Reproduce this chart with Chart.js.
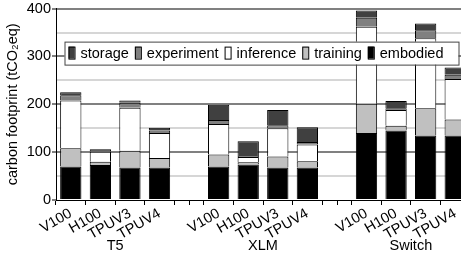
<!DOCTYPE html>
<html>
<head>
<meta charset="utf-8">
<script src="https://cdn.jsdelivr.net/npm/chart.js@4"></script>
<style>
  html, body { margin: 0; padding: 0; background: #fff; overflow: hidden; }
  #wrap { width: 470px; height: 258px; }
</style>
</head>
<body>
<div id="wrap"><canvas id="chart-footprint"></canvas></div>
<script>
// hardware per slot, empty slots separate the model groups
const categories = ["V100", "H100", "TPUV3", "TPUV4", "",
                    "V100", "H100", "TPUV3", "TPUV4", "",
                    "V100", "H100", "TPUV3", "TPUV4"];
const groups = ["T5", "XLM", "Switch"];
const groupCenters = [1.5, 6.5, 11.5];
const gapSlots = [4, 9];

// tCO2eq, stacked bottom -> top
const embodied   = [70, 73, 68, 68, null, 70, 74, 68, 68, null, 140, 145, 135, 135];
const training   = [38, 7, 35, 20, null, 25, 5, 23, 13, null, 61, 10, 57, 33];
const inference  = [100, 21, 90, 52, null, 64, 11, 59, 35, null, 161, 33, 146, 85];
const experiment = [11, 1, 10, 5, null, 8, 2, 6, 5, null, 19, 4, 17, 9];
const storage    = [6, 4, 5, 6, null, 32, 31, 32, 31, null, 15, 15, 14, 15];

const yTicks = [0, 100, 200, 300, 400];

const FONT = "'Liberation Sans', Arial, sans-serif";
Chart.defaults.font.family = FONT;
Chart.defaults.font.size = 14.5;
Chart.defaults.color = "#000";

// legend drawn inside the plot, in a boxed row
const boxedLegend = {
  id: "boxedLegend",
  afterDraw(chart) {
    const ctx = chart.ctx;
    const ca = chart.chartArea;
    const left = ca.left + 8.5, top = ca.top + 33, w = 394, h = 23;
    ctx.save();
    ctx.fillStyle = "#fff";
    ctx.fillRect(left, top, w, h);
    ctx.strokeStyle = "#444";
    ctx.lineWidth = 1;
    ctx.strokeRect(left + 0.5, top + 0.5, w, h);
    ctx.font = "14.5px " + FONT;
    ctx.textBaseline = "middle";
    let x = left + 4;
    const items = chart.data.datasets.slice().reverse();
    items.forEach(ds => {
      ctx.fillStyle = ds.backgroundColor;
      ctx.fillRect(x, top + 5, 6, 12);
      ctx.strokeStyle = "#000";
      ctx.strokeRect(x + 0.5, top + 5.5, 6, 12);
      x += 12;
      ctx.fillStyle = "#000";
      ctx.fillText(ds.label, x, top + 12);
      x += ctx.measureText(ds.label).width + 6;
    });
    ctx.restore();
  }
};

// model names under the hardware labels, plus ticks in the gaps
const groupLabels = {
  id: "groupLabels",
  afterDraw(chart) {
    const ctx = chart.ctx;
    const xs = chart.scales.x;
    const ca = chart.chartArea;
    ctx.save();
    ctx.font = "14.5px " + FONT;
    ctx.fillStyle = "#000";
    ctx.textAlign = "center";
    ctx.textBaseline = "middle";
    groups.forEach((g, i) => {
      ctx.fillText(g, xs.getPixelForValue(groupCenters[i]), ca.bottom + 46);
    });
    ctx.strokeStyle = "#000";
    ctx.lineWidth = 1;
    gapSlots.forEach(s => {
      const px = Math.round(xs.getPixelForValue(s)) + 0.5;
      ctx.beginPath();
      ctx.moveTo(px, ca.bottom);
      ctx.lineTo(px, ca.bottom + 5);
      ctx.stroke();
    });
    ctx.restore();
  }
};

const barStyle = { borderColor: "#000", borderWidth: 1, barPercentage: 0.72, categoryPercentage: 1 };

new Chart(document.getElementById("chart-footprint"), {
  type: "bar",
  data: {
    labels: categories,
    datasets: [
      { label: "embodied", data: embodied, backgroundColor: "#000", ...barStyle },
      { label: "training", data: training, backgroundColor: "#c0c0c0", ...barStyle },
      { label: "inference", data: inference, backgroundColor: "#fff", ...barStyle },
      { label: "experiment", data: experiment, backgroundColor: "#808080", ...barStyle },
      { label: "storage", data: storage, backgroundColor: "#404040", ...barStyle },
    ],
  },
  options: {
    responsive: true,
    maintainAspectRatio: false,
    animation: false,
    layout: { padding: 0 },
    plugins: {
      legend: { display: false },
      tooltip: { enabled: false },
    },
    scales: {
      x: {
        stacked: true,
        afterFit: s => { s.height = 58; },
        grid: { drawOnChartArea: false, tickLength: 5, color: "#000", offset: true },
        border: { color: "#000", width: 1 },
        ticks: { minRotation: 30, maxRotation: 30, autoSkip: false, padding: 0 },
      },
      y: {
        stacked: true,
        min: 0,
        max: 400,
        afterFit: s => { s.width = 56; },
        ticks: {
          stepSize: 50,
          padding: 1,
          font: { lineHeight: 1.05 },
          callback: v => (yTicks.includes(v) ? v : ""),
        },
        grid: {
          tickLength: 4,
          lineWidth: 2,
          color: c => (c.tick.value === 0 ? "rgba(0,0,0,0)" : c.tick.value % 100 === 0 ? "#808080" : "#d6d6d6"),
          tickColor: c => (c.tick.value % 100 === 0 ? "#000" : "rgba(0,0,0,0)"),
          tickWidth: 1,
        },
        border: { color: "#000", width: 1 },
        title: {
          display: true,
          text: "carbon footprint (tCO\u2082eq)",
          padding: { top: 4, bottom: 0 },
        },
      },
    },
  },
  plugins: [boxedLegend, groupLabels],
});
</script>
</body>
</html>
